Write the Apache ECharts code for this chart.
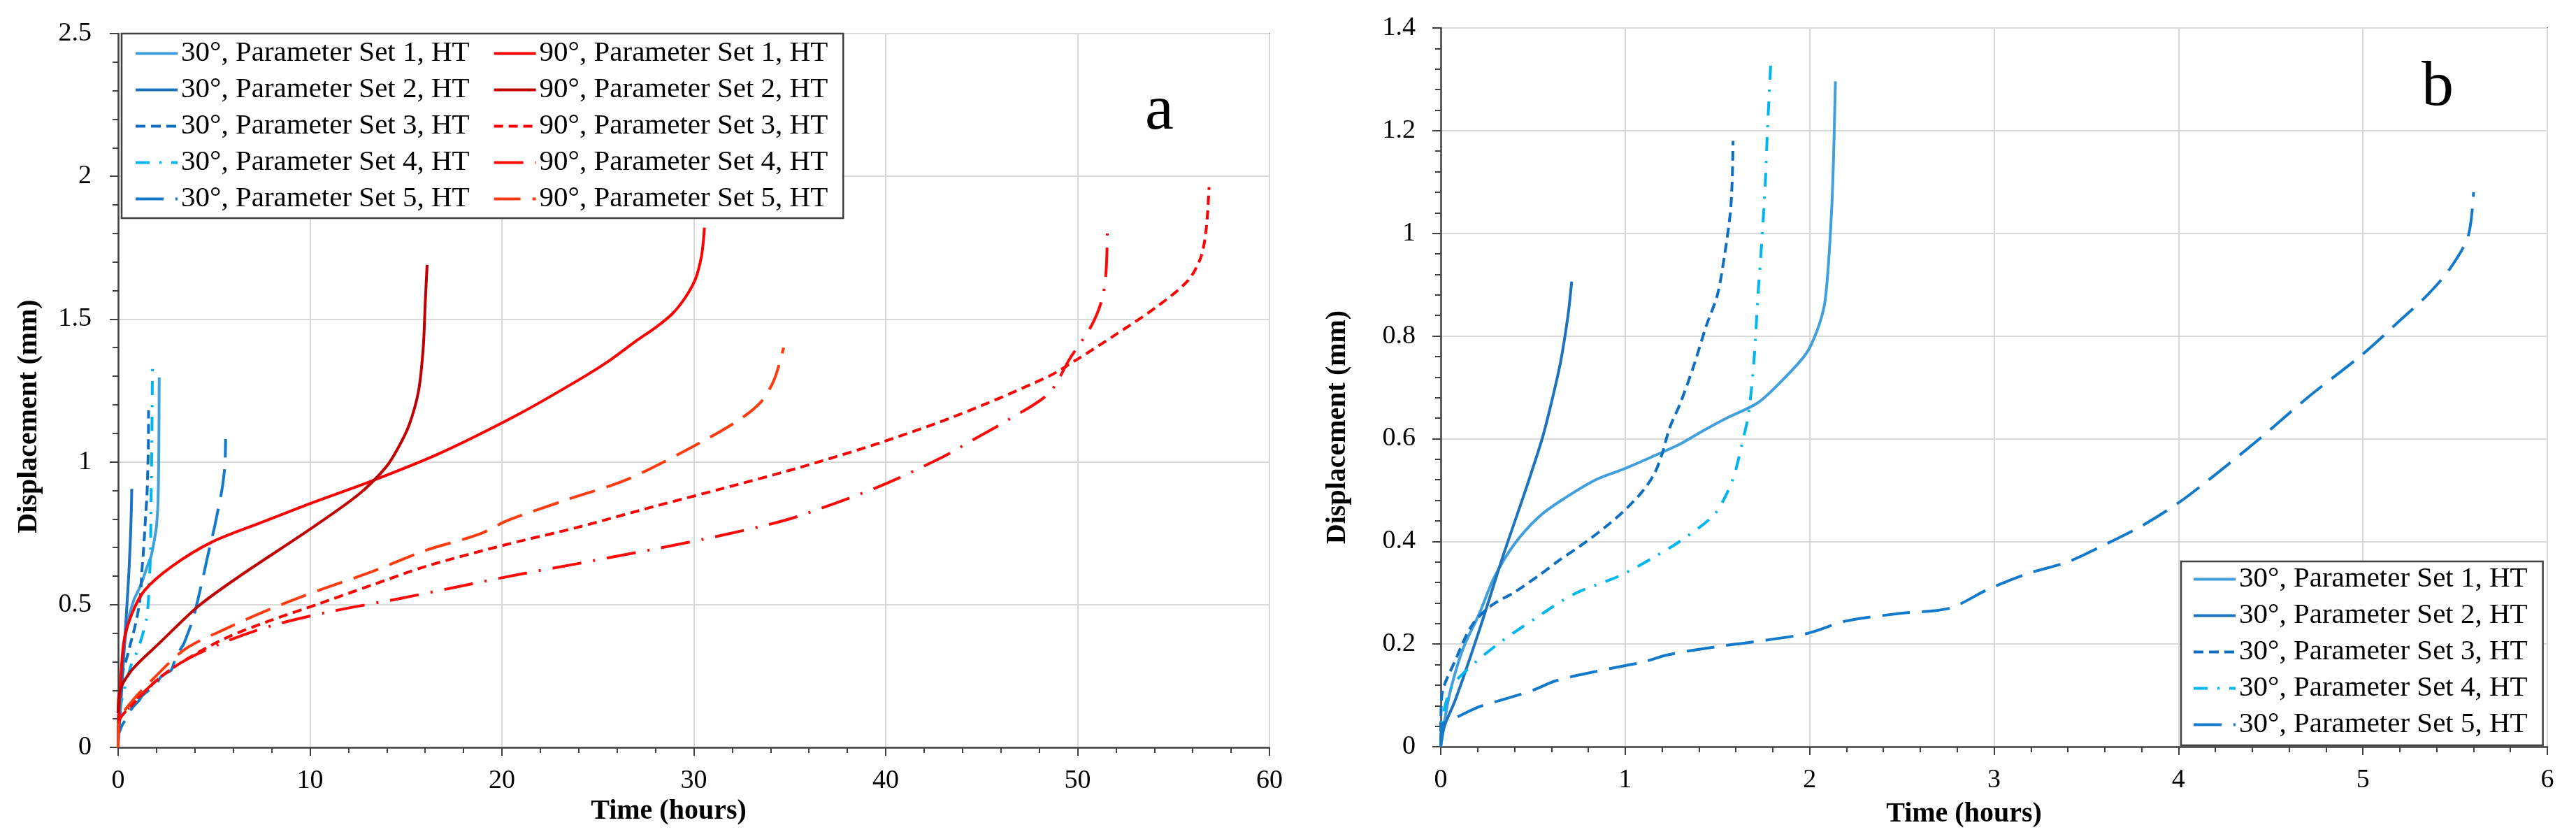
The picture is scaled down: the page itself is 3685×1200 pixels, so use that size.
<!DOCTYPE html>
<html>
<head>
<meta charset="utf-8">
<title>Displacement vs time</title>
<script src="https://cdn.jsdelivr.net/npm/echarts@6/dist/echarts.min.js"></script>
<style>
  html, body { margin: 0; padding: 0; background: #fff; }
  #chart { width: 3685px; height: 1200px; }
</style>
</head>
<body>
<div id="chart"></div>
<script>
// series names
var name30 = ['30°, Parameter Set 1, HT', '30°, Parameter Set 2, HT', '30°, Parameter Set 3, HT',
              '30°, Parameter Set 4, HT', '30°, Parameter Set 5, HT'];
var name90 = ['90°, Parameter Set 1, HT', '90°, Parameter Set 2, HT', '90°, Parameter Set 3, HT',
              '90°, Parameter Set 4, HT', '90°, Parameter Set 5, HT'];

// [time (hours), displacement (mm)]
var s30_1 = [[0,0],[0.03,0.07],[0.06,0.12],[0.12,0.19],[0.21,0.26],[0.29,0.33],[0.4,0.395],[0.53,0.447],
             [0.65,0.479],[0.84,0.52],[1.0,0.542],[1.16,0.567],[1.3,0.59],[1.42,0.615],[1.55,0.64],
             [1.72,0.67],[1.85,0.713],[1.98,0.765],[2.04,0.81],[2.08,0.86],[2.1,0.93],[2.12,1.05],
             [2.13,1.15],[2.14,1.296]];
var s30_2 = [[0,0],[0.02,0.04],[0.08,0.092],[0.21,0.228],[0.34,0.374],[0.46,0.5],[0.55,0.6],
             [0.6,0.67],[0.65,0.75],[0.69,0.84],[0.71,0.906]];
var s30_3 = [[0,0.03],[0.006,0.1],[0.08,0.169],[0.17,0.237],[0.27,0.274],[0.4,0.301],[0.53,0.333],
             [0.65,0.365],[0.78,0.397],[0.91,0.433],[1.01,0.465],[1.1,0.5],[1.16,0.533],[1.2,0.57],
             [1.24,0.62],[1.3,0.67],[1.37,0.74],[1.44,0.82],[1.5,0.88],[1.54,0.96],[1.57,1.04],
             [1.58,1.1],[1.585,1.18]];
var s30_4 = [[0,0],[0.005,0.046],[0.057,0.115],[0.146,0.151],[0.31,0.2],[0.5,0.247],[0.72,0.297],
             [0.97,0.333],[1.16,0.37],[1.3,0.401],[1.48,0.451],[1.56,0.5],[1.6,0.54],[1.64,0.6],
             [1.67,0.65],[1.7,0.76],[1.72,0.88],[1.74,0.98],[1.76,1.1],[1.77,1.19],[1.79,1.335]];
var s30_5 = [[0,0],[0.006,0.042],[0.08,0.056],[0.21,0.078],[0.34,0.092],[0.5,0.11],[0.62,0.128],
             [0.78,0.142],[1.0,0.158],[1.1,0.165],[1.22,0.178],[1.35,0.187],[1.54,0.197],[1.67,0.203],
             [1.98,0.22],[2.2,0.245],[2.5,0.26],[2.76,0.27],[2.97,0.307],[3.19,0.338],[3.4,0.36],
             [3.58,0.39],[3.8,0.43],[4.0,0.475],[4.2,0.53],[4.44,0.6],[4.7,0.68],[5.0,0.765],
             [5.2,0.83],[5.35,0.88],[5.47,0.93],[5.57,0.994],[5.6,1.08]];

var s90_1 = [[0,0.02],[0.02,0.09],[0.28,0.362],[0.7,0.465],[1.38,0.55],[2.8,0.634],[4.88,0.719],
             [7.67,0.793],[10.04,0.855],[13.25,0.934],[16.7,1.028],[20.9,1.168],[24.0,1.287],
             [25.5,1.35],[27.07,1.427],[28.0,1.47],[28.9,1.52],[29.6,1.58],[30.1,1.643],[30.4,1.72],
             [30.5,1.775],[30.55,1.82]];
var s90_2 = [[0,0.12],[0.07,0.193],[0.7,0.27],[2.1,0.362],[4.19,0.495],[6.27,0.597],[10.04,0.766],
             [12.55,0.887],[13.95,0.981],[14.6,1.05],[15.17,1.13],[15.66,1.25],[15.9,1.4],
             [16.0,1.55],[16.1,1.69]];
var s90_3 = [[0,0],[0.05,0.09],[0.7,0.147],[2.1,0.24],[3.49,0.306],[5.58,0.382],[7.67,0.438],
             [10.46,0.503],[13.25,0.569],[16.03,0.634],[20.2,0.71],[23.9,0.77],[28.0,0.845],
             [31.4,0.905],[35.5,0.98],[39.85,1.07],[44.0,1.17],[48.5,1.3],[50.0,1.36],
             [51.97,1.445],[54.06,1.54],[55.74,1.634],[56.43,1.718],[56.71,1.82],[56.85,1.962]];
var s90_4 = [[0,0],[0.05,0.09],[0.7,0.15],[2.1,0.24],[3.49,0.305],[5.58,0.37],[8.09,0.428],
             [11.02,0.475],[14.65,0.521],[17.43,0.559],[20.9,0.606],[23.9,0.643],[29.7,0.718],
             [33.5,0.774],[35.5,0.811],[39.7,0.915],[43.0,1.018],[44.7,1.083],[46.2,1.14],
             [48.5,1.24],[49.6,1.362],[50.7,1.474],[51.27,1.568],[51.48,1.662],[51.55,1.802]];
var s90_5 = [[0,0],[0.05,0.09],[0.7,0.16],[1.82,0.24],[3.49,0.344],[5.72,0.419],[7.94,0.485],
             [10.46,0.55],[13.25,0.616],[16.03,0.69],[18.83,0.747],[20.3,0.795],[23.5,0.87],
             [26.4,0.935],[29.3,1.03],[32.2,1.14],[33.5,1.21],[34.2,1.29],[34.68,1.4]];

var FONT = 'Liberation Serif';
var chart = echarts.init(document.getElementById('chart'));

function valueAxis(gi, max, step, name, gap, pad, labelMargin) {
    return {
        type: 'value', gridIndex: gi, min: 0, max: max, interval: step,
        name: name, nameLocation: 'middle', nameGap: gap,
        nameTextStyle: { fontFamily: FONT, fontSize: 40, fontWeight: 'bold', color: '#000', padding: pad },
        axisLine: { show: true, onZero: false, lineStyle: { color: '#404040', width: 2.5 } },
        axisTick: { show: true, length: 12, lineStyle: { color: '#404040', width: 2 } },
        minorTick: { show: true, splitNumber: 5, length: 8, lineStyle: { color: '#404040', width: 2 } },
        splitLine: { show: true, lineStyle: { color: '#D9D9D9', width: 2 } },
        axisLabel: { fontFamily: FONT, fontSize: 38, color: '#000', margin: labelMargin }
    };
}

function line(name, data, color, dash, gi) {
    return {
        name: name, type: 'line', xAxisIndex: gi, yAxisIndex: gi, data: data,
        symbol: 'none', showSymbol: false, smooth: 0.3, clip: true,
        lineStyle: { color: color, width: 4, type: dash },
        itemStyle: { color: color }
    };
}

var colors30 = ['#41A0DC', '#1E73BE', '#0E6FC2', '#00B6F2', '#137ACB'];
var dash30 = ['solid', 'solid', [14, 8], [20, 14, 3, 14], [40, 17]];
var colors90 = ['#FF0000', '#C00000', '#FF0000', '#FF0808', '#FF3C0F'];
var dash90 = ['solid', 'solid', [13, 8], [42, 17, 3, 17], [38, 17]];
var data30 = [s30_1, s30_2, s30_3, s30_4, s30_5];
var data90 = [s90_1, s90_2, s90_3, s90_4, s90_5];

var series = [];
for (var i = 0; i < 5; i++) series.push(line(name30[i], data30[i], colors30[i], dash30[i], 0));
for (var i = 0; i < 5; i++) series.push(line(name90[i], data90[i], colors90[i], dash90[i], 0));
for (var i = 0; i < 5; i++) series.push(line(name30[i], data30[i], colors30[i], dash30[i], 1));

function legendBox(left, top, pad, names) {
    return {
        orient: 'vertical', left: left, top: top, height: 280,
        padding: pad, itemGap: 11, itemWidth: 60, itemHeight: 19,
        backgroundColor: '#fff', borderColor: '#404040', borderWidth: 2.5, borderRadius: 0,
        selectedMode: false,
        itemStyle: { opacity: 0 },
        lineStyle: { width: 4 },
        textStyle: {
            fontFamily: FONT, fontSize: 41, color: '#000',
            padding: [0, 22, 0, 0], backgroundColor: 'rgba(255,255,255,0)'
        },
        data: names
    };
}

option = {
    animation: false,
    backgroundColor: '#fff',
    textStyle: { fontFamily: FONT },
    title: [
        { text: 'a', left: 1638, top: 114, padding: 0,
          textStyle: { fontFamily: FONT, fontSize: 92, fontWeight: 'normal', color: '#000' } },
        { text: 'b', left: 3464, top: 80, padding: 0,
          textStyle: { fontFamily: FONT, fontSize: 92, fontWeight: 'normal', color: '#000' } }
    ],
    grid: [
        { left: 169, top: 48, width: 1647, height: 1021, show: true, borderColor: '#404040', borderWidth: 2 },
        { left: 2061, top: 40, width: 1583, height: 1028, show: true, borderColor: '#404040', borderWidth: 2 }
    ],
    xAxis: [
        valueAxis(0, 60, 10, 'Time (hours)', 72, [0, 72, 0, 0], 29),
        valueAxis(1, 6, 1, 'Time (hours)', 77, [0, 86, 0, 0], 29)
    ],
    yAxis: [
        valueAxis(0, 2.5, 0.5, 'Displacement (mm)', 107, [0, 74, 0, 0], 38),
        valueAxis(1, 1.4, 0.2, 'Displacement (mm)', 127, [0, 114, 0, 0], 36)
    ],
    legend: [
        legendBox(174, 48, [8, 0, 7, 18], name30.concat(name90)),
        legendBox(3120, 803, [5, 0, 9, 16], name30)
    ],
    series: series
};

chart.setOption(option);
</script>
</body>
</html>
